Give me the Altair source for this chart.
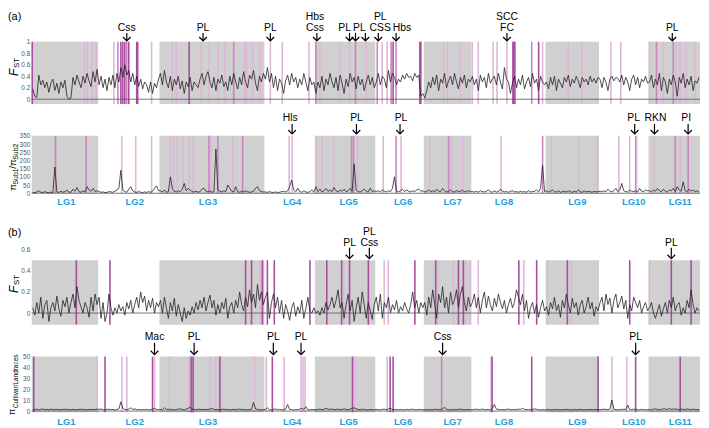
import altair as alt
import pandas as pd

# ---------------- data ----------------
LG_NAMES = ["LG1", "LG2", "LG3", "LG4", "LG5", "LG6", "LG7", "LG8", "LG9", "LG10", "LG11"]
LG_LENGTHS = [67, 62, 106, 51, 61, 49, 48, 75, 54, 50, 52]
LG_LABEL_POS = [35, 104, 178, 263, 320, 375, 425, 477, 551, 608, 655]
GREY_LGS = ["LG1", "LG3", "LG5", "LG7", "LG9", "LG11"]

# (a) FST per linkage group (sliding windows)
A_FST = [
    [0.18, 0.05, 0.03, 0.42, 0.25, 0.33, 0.20, 0.30, 0.12, 0.28, 0.35, 0.15, 0.28, 0.10, 0.30, 0.20, 0.33,
     0.05, 0.00, 0.02, 0.38, 0.25, 0.42, 0.30, 0.20, 0.40, 0.28, 0.45, 0.32, 0.22, 0.48, 0.30, 0.52],
    [0.25, 0.40, 0.20, 0.35, 0.15, 0.38, 0.25, 0.42, 0.20, 0.45, 0.30, 0.55, 0.38, 0.60, 0.42, 0.50, 0.30,
     0.45, 0.25, 0.40, 0.22, 0.35, 0.18, 0.30, 0.25, 0.12, 0.30, 0.10, 0.28, 0.20, 0.35],
    [0.45, 0.25, 0.50, 0.30, 0.20, 0.40, 0.15, 0.35, 0.25, 0.40, 0.18, 0.32, 0.10, 0.30, 0.22, 0.38, 0.15,
     0.30, 0.25, 0.20, 0.35, 0.45, 0.25, 0.40, 0.48, 0.30, 0.20, 0.38, 0.15, 0.35, 0.28, 0.42, 0.22, 0.30,
     0.15, 0.40, 0.25, 0.45, 0.30, 0.18, 0.38, 0.25, 0.48, 0.30, 0.20, 0.42, 0.35, 0.50, 0.28, 0.15, 0.40,
     0.30, 0.45],
    [0.35, 0.55, 0.30, 0.45, 0.20, 0.40, 0.15, 0.35, 0.28, 0.10, 0.32, 0.42, 0.25, 0.45, 0.30, 0.38, 0.20,
     0.35, 0.25, 0.45, 0.30, 0.15, 0.38, 0.25, 0.30],
    [0.10, 0.30, 0.20, 0.40, 0.15, 0.35, 0.25, 0.45, 0.30, 0.20, 0.38, 0.15, 0.42, 0.28, 0.10, 0.35, 0.22,
     0.45, 0.30, 0.38, 0.18, 0.40, 0.25, 0.35, 0.15, 0.30, 0.42, 0.25, 0.38, 0.20],
    [0.30, 0.45, 0.25, 0.40, 0.35, 0.20, 0.50, 0.30, 0.45, 0.38, 0.25, 0.35, 0.30, 0.42, 0.35, 0.45, 0.38,
     0.40, 0.32, 0.45, 0.38, 0.42, 0.05, 0.10],
    [0.02, 0.15, 0.30, 0.20, 0.38, 0.25, 0.42, 0.15, 0.35, 0.28, 0.45, 0.20, 0.32, 0.40, 0.25, 0.45, 0.30,
     0.18, 0.38, 0.28, 0.42, 0.20, 0.35, 0.30],
    [0.40, 0.25, 0.35, 0.15, 0.42, 0.30, 0.38, 0.20, 0.45, 0.28, 0.35, 0.40, 0.25, 0.45, 0.30, 0.18, 0.55,
     0.35, 0.30, 0.10, 0.28, 0.40, 0.20, 0.35, 0.25, 0.42, 0.18, 0.30, 0.38, 0.22, 0.45, 0.28, 0.35, 0.15,
     0.40, 0.30, 0.25],
    [0.30, 0.18, 0.38, 0.25, 0.40, 0.15, 0.35, 0.28, 0.20, 0.38, 0.30, 0.42, 0.22, 0.35, 0.28, 0.40, 0.32,
     0.20, 0.38, 0.30, 0.35, 0.25, 0.40, 0.30, 0.36, 0.28, 0.38],
    [0.35, 0.20, 0.38, 0.30, 0.15, 0.35, 0.40, 0.32, 0.38, 0.36, 0.30, 0.42, 0.25, 0.38, 0.30, 0.15, 0.35,
     0.42, 0.25, 0.38, 0.20, 0.35, 0.30, 0.40, 0.28],
    [0.30, 0.42, 0.20, 0.35, 0.25, 0.45, 0.15, 0.38, 0.30, 0.10, 0.35, 0.25, 0.42, 0.30, 0.05, 0.38, 0.28,
     0.45, 0.20, 0.35, 0.25, 0.40, 0.15, 0.32, 0.28, 0.38],
]

# (a) pi_Sub1 / pi_Sub2
A_PI = [
    [5, 3, 8, 15, 6, 4, 10, 5, 3, 7, 4, 160, 8, 5, 12, 6, 10, 18, 8, 5, 25, 12, 35, 10, 6, 15, 8, 40, 20, 12, 30, 10, 15],
    [10, 6, 8, 4, 5, 10, 8, 6, 12, 20, 30, 140, 20, 10, 6, 25, 40, 15, 8, 5, 10, 6, 4, 8, 5, 10, 6, 12, 30, 45, 15],
    [15, 8, 20, 6, 10, 100, 30, 12, 8, 15, 10, 25, 60, 15, 30, 20, 10, 8, 12, 6, 10, 25, 30, 12, 8, 15, 6, 10,
     270, 20, 12, 8, 15, 10, 50, 30, 12, 8, 40, 10, 6, 12, 8, 15, 10, 6, 8, 12, 30, 40, 15, 10, 8],
    [8, 5, 10, 6, 4, 8, 5, 6, 10, 12, 8, 15, 40, 80, 20, 8, 30, 10, 6, 15, 8, 5, 10, 20, 6],
    [40, 10, 25, 8, 15, 30, 12, 20, 10, 35, 15, 8, 20, 12, 25, 10, 15, 30, 12, 180, 20, 10, 8, 15, 25, 12, 8, 30, 10, 15],
    [10, 15, 8, 20, 12, 8, 15, 10, 30, 100, 12, 8, 15, 25, 10, 20, 12, 8, 15, 10, 20, 25, 12, 15],
    [8, 12, 20, 10, 15, 8, 25, 12, 10, 30, 15, 8, 12, 20, 10, 8, 15, 12, 10, 20, 8, 12, 15, 10],
    [10, 8, 12, 6, 15, 10, 8, 12, 20, 10, 6, 15, 8, 10, 25, 12, 8, 10, 6, 12, 15, 8, 10, 6, 12, 8, 10, 6,
     15, 8, 10, 12, 20, 8, 30, 170, 10],
    [15, 8, 12, 20, 10, 8, 15, 6, 10, 12, 8, 15, 10, 6, 12, 8, 20, 10, 6, 15, 8, 12, 10, 6, 12, 8, 10],
    [12, 8, 15, 10, 25, 12, 8, 15, 30, 10, 20, 60, 15, 10, 8, 20, 12, 10, 15, 8, 30, 12, 10, 20, 15],
    [15, 10, 20, 12, 30, 15, 10, 25, 12, 8, 20, 15, 30, 10, 40, 20, 12, 70, 15, 10, 25, 12, 20, 10, 15, 8],
]

# (b) FST
B_FST = [
    [0.05, -0.02, 0.10, 0.00, 0.15, -0.05, 0.08, 0.12, -0.08, 0.05, 0.10, 0.02, 0.16, 0.04, -0.03, 0.12, 0.06,
     0.15, 0.00, 0.10, 0.18, 0.05, 0.25, 0.12, 0.06, 0.00, 0.10, 0.05, -0.04, 0.15, 0.02, 0.18, 0.08],
    [0.15, -0.05, 0.10, -0.08, 0.00, 0.18, 0.05, -0.02, 0.05, 0.00, 0.08, 0.02, 0.06, -0.02, 0.10, 0.04, 0.12,
     0.00, 0.08, 0.15, 0.05, 0.20, 0.10, 0.16, 0.02, 0.12, 0.05, 0.14, 0.00, 0.10, 0.06],
    [0.12, 0.00, 0.15, 0.05, -0.05, 0.10, 0.02, 0.14, -0.03, 0.08, 0.00, -0.08, 0.05, -0.05, 0.02, -0.02, 0.06,
     0.00, 0.10, 0.03, 0.12, 0.05, 0.15, 0.02, 0.10, 0.17, 0.05, 0.12, -0.02, 0.08, 0.00, 0.10, 0.04, 0.14,
     -0.05, 0.06, 0.10, 0.00, 0.12, 0.05, 0.20, 0.08, 0.02, 0.15, 0.06, 0.22, 0.10, 0.18, 0.05, 0.27, 0.12,
     0.20, 0.08],
    [0.15, 0.20, -0.05, 0.10, 0.18, 0.05, 0.15, 0.00, 0.12, -0.05, 0.08, 0.02, -0.07, 0.05, 0.10, -0.03, 0.06,
     0.00, 0.12, -0.05, 0.04, 0.15, 0.02, 0.00, 0.05],
    [0.00, 0.02, -0.02, 0.05, 0.00, 0.10, 0.03, 0.08, 0.15, 0.05, 0.12, 0.22, 0.05, 0.10, -0.05, 0.08, 0.18,
     0.02, 0.12, -0.08, 0.05, 0.15, 0.00, 0.20, 0.08, -0.05, 0.10, 0.02, -0.06, 0.08],
    [0.15, 0.02, 0.18, -0.05, 0.10, 0.05, 0.15, 0.00, 0.08, 0.03, 0.12, 0.00, 0.06, 0.02, 0.10, 0.04, 0.00,
     0.08, 0.20, 0.05, 0.12, 0.00, 0.10, 0.05],
    [0.10, -0.02, 0.15, 0.05, 0.22, 0.08, -0.05, 0.18, 0.10, 0.25, 0.05, 0.15, 0.00, 0.20, 0.08, 0.12, 0.22,
     0.05, 0.18, 0.25, 0.10, 0.02, 0.15, 0.06],
    [0.10, 0.18, 0.05, 0.15, 0.00, 0.12, 0.20, 0.05, 0.16, 0.08, 0.02, 0.14, 0.06, 0.18, 0.10, 0.04, 0.12,
     0.00, 0.08, 0.14, 0.05, 0.10, 0.22, 0.15, 0.08, 0.18, 0.02, 0.12, -0.05, 0.05, 0.10, 0.00, 0.08, -0.04,
     0.05, 0.12, 0.02],
    [0.06, -0.02, 0.10, 0.04, 0.15, 0.02, 0.08, -0.04, 0.12, 0.05, 0.18, 0.08, 0.00, 0.14, 0.05, 0.10, -0.02,
     0.08, 0.12, 0.00, 0.06, 0.15, 0.04, 0.10, -0.03, 0.06, 0.02],
    [0.10, 0.15, 0.02, 0.18, 0.08, 0.14, 0.00, 0.12, 0.18, 0.05, 0.10, 0.16, 0.04, 0.12, -0.05, 0.08, 0.02,
     0.15, 0.10, 0.05, 0.12, 0.00, 0.06, 0.10, 0.02],
    [0.05, 0.10, 0.00, -0.05, 0.02, 0.08, -0.03, 0.04, 0.10, 0.00, 0.12, 0.05, 0.15, 0.02, 0.08, 0.10, -0.02,
     0.05, 0.00, 0.12, 0.05, 0.22, 0.08, 0.00, 0.05, 0.02],
]

# (b) pi_Cultivar / pi_Landraces
B_PI = [
    [1.5, 1.2, 1.8, 1.0, 1.5, 2.0, 1.3, 1.6, 1.1, 1.8, 1.4, 1.2, 1.7, 1.0, 1.5, 1.3, 1.8, 1.2, 1.5, 1.0, 1.6,
     1.3, 1.1, 1.5, 1.8, 1.2, 1.4, 1.0, 1.6, 1.3, 1.5, 1.2, 1.8],
    [1.5, 2.0, 1.2, 1.0, 1.5, 1.8, 1.2, 1.5, 1.0, 1.3, 2.0, 8.5, 2.5, 1.5, 1.2, 1.8, 3.0, 1.5, 2.0, 1.2, 1.5,
     1.0, 1.4, 1.2, 1.6, 1.0, 1.3, 1.8, 2.5, 1.5, 1.2],
    [1.5, 1.2, 3.0, 1.5, 1.8, 1.2, 1.5, 1.0, 1.4, 1.8, 2.0, 1.5, 1.2, 1.8, 2.5, 3.5, 2.0, 1.5, 1.2, 1.8, 1.5,
     1.3, 1.6, 1.2, 1.5, 1.8, 2.5, 1.5, 1.2, 1.6, 1.0, 1.4, 1.8, 1.2, 1.5, 1.0, 1.3, 1.6, 1.2, 1.5, 1.8, 1.3,
     1.5, 1.2, 1.0, 1.4, 1.6, 8.0, 2.0, 1.5, 1.2, 1.0, 1.3],
    [1.5, 3.0, 1.2, 1.0, 1.5, 2.0, 1.2, 1.5, 1.0, 1.3, 1.8, 6.0, 1.5, 1.2, 1.0, 1.4, 1.2, 1.8, 2.5, 1.5, 4.0,
     1.2, 1.0, 1.5, 1.2],
    [1.2, 1.5, 1.8, 1.2, 1.5, 2.5, 1.8, 1.5, 2.0, 1.2, 1.5, 1.8, 1.3, 1.5, 2.0, 1.5, 1.2, 1.8, 2.5, 3.0, 2.0,
     1.5, 1.2, 1.8, 1.5, 1.2, 1.0, 1.5, 1.3, 1.2],
    [1.5, 1.2, 1.0, 1.5, 1.8, 1.2, 2.0, 2.5, 1.5, 1.2, 1.5, 1.0, 1.3, 1.2, 1.0, 1.5, 1.2, 1.4, 1.8, 1.2, 1.0,
     1.5, 1.3, 1.2],
    [1.2, 1.5, 1.0, 1.3, 1.2, 1.8, 1.5, 1.2, 1.5, 2.0, 3.5, 1.5, 1.2, 1.0, 1.5, 1.3, 1.2, 1.6, 1.8, 1.5, 1.2,
     1.3, 1.5, 1.2],
    [1.2, 1.5, 1.8, 1.2, 1.5, 1.8, 1.2, 1.3, 1.5, 1.2, 2.5, 6.0, 1.8, 1.5, 1.2, 1.4, 1.2, 1.5, 1.8, 1.3, 1.2,
     1.5, 1.2, 1.8, 1.5, 2.5, 1.5, 1.2, 1.4, 1.2, 1.5, 2.0, 1.5, 1.2, 1.0, 1.3, 1.2],
    [1.2, 1.5, 1.0, 1.3, 1.2, 1.5, 1.2, 1.0, 1.4, 1.2, 1.5, 1.3, 1.2, 1.0, 1.5, 1.2, 1.3, 1.5, 1.2, 1.0, 1.4,
     1.2, 1.5, 1.3, 1.2, 1.5, 1.2],
    [1.2, 1.5, 1.8, 1.5, 1.2, 2.0, 10.0, 1.5, 1.2, 1.0, 1.5, 1.2, 1.8, 1.3, 5.5, 1.5, 1.2, 1.8, 1.5, 1.2, 1.0,
     1.5, 1.2, 1.3, 1.0],
    [1.5, 1.2, 1.8, 2.0, 1.5, 1.2, 1.5, 2.0, 1.8, 1.5, 2.5, 1.5, 1.8, 2.0, 1.5, 1.2, 1.8, 1.5, 1.2, 2.0, 1.5,
     1.2, 1.8, 1.5, 1.2, 1.5],
]

# outlier (candidate region) positions and strength
A_FST_OUT = [0.5, 53, 56, 61, 65, 83, 87, 90, 92, 94, 96, 98, 106, 107, 121, 142, 146, 159, 171, 179, 188,
             195, 204, 215, 217, 223, 231, 241, 253, 280, 287, 291, 311, 321, 327, 338, 349, 354, 359, 363,
             365, 368, 392, 393, 416, 420, 433, 445, 451, 466, 470, 480, 486, 487, 488, 505, 512, 516, 542,
             556, 585, 595, 624, 631, 638, 648, 651, 655, 661, 670]
A_FST_LVL = ["s", "l", "l", "l", "l", "l", "m", "s", "s", "s", "m", "s", "s", "s", "l", "l", "l", "s", "l",
             "l", "l", "l", "m", "l", "l", "l", "l", "l", "l", "l", "m", "l", "l", "l", "m", "l", "m", "l",
             "l", "m", "s", "m", "s", "s", "l", "l", "l", "l", "l", "l", "l", "l", "s", "s", "s", "m", "s",
             "l", "l", "l", "l", "l", "l", "m", "l", "m", "l", "l", "l", "l"]

A_PI_OUT = [24, 55, 91, 105, 121, 140, 143, 147, 153, 159, 163, 179, 181, 188, 203, 213, 260, 263, 287, 293,
            305, 323, 325, 329, 355, 368, 373, 402, 421, 424, 435, 474, 516, 525, 553, 571, 593, 604, 610,
            611, 628, 650, 655, 663]
A_PI_LVL = ["m", "m", "l", "l", "l", "l", "l", "l", "l", "l", "l", "m", "l", "m", "l", "m", "l", "l", "l",
            "l", "l", "m", "m", "l", "l", "m", "l", "l", "m", "l", "l", "l", "m", "l", "l", "l", "l", "l",
            "m", "l", "l", "m", "l", "m"]

B_FST_OUT = [45, 79, 216, 222, 231, 233, 238, 245, 281, 298, 313, 315, 321, 340, 356, 360, 387, 408, 410,
             426, 431, 436, 438, 443, 451, 492, 497, 510, 521, 541, 545, 604, 624, 646, 666]
B_FST_LVL = ["s", "s", "s", "s", "l", "s", "s", "s", "s", "s", "s", "l", "s", "s", "l", "l", "s", "s", "l",
             "l", "s", "s", "l", "l", "l", "s", "l", "s", "l", "s", "l", "s", "l", "s", "s"]

B_PI_OUT = [2, 66, 74, 91, 96, 122, 124, 139, 159, 161, 163, 180, 186, 190, 225, 237, 243, 255, 272, 274,
            276, 324, 326, 359, 362, 365, 414, 464, 465, 505, 572, 586, 601, 610, 655]
B_PI_LVL = ["s", "l", "s", "l", "l", "s", "l", "l", "l", "s", "s", "l", "l", "s", "l", "l", "s", "l", "l",
            "l", "l", "s", "l", "l", "s", "s", "m", "l", "s", "s", "s", "l", "l", "s", "s"]

# gene annotations: (position, text, row)  row 1 = upper line
A_FST_LABELS = [(96, "Css", 0), (173, "PL", 0), (241, "PL", 0), (286, "Css", 0), (286, "Hbs", 1),
                (316, "PL", 0), (331, "PL", 0), (352, "CSS", 0), (352, "PL", 1), (374, "Hbs", 0),
                (480, "FC", 0), (480, "SCC", 1), (647, "PL", 0)]
A_FST_ARROWS = [96, 173, 241, 288, 321, 327, 337, 350, 368, 480, 647]
A_PI_LABELS = [(261, "Hls", 0), (328, "PL", 0), (373, "PL", 0), (608, "PL", 0), (630, "RKN", 0), (661, "PI", 0)]
A_PI_ARROWS = [263, 328, 372, 609, 629, 663]
B_FST_LABELS = [(321, "PL", 0), (341, "Css", 0), (341, "PL", 1), (646, "PL", 0)]
B_FST_ARROWS = [321, 341, 646]
B_PI_LABELS = [(124, "Mac", 0), (164, "PL", 0), (244, "PL", 0), (272, "PL", 0), (415, "Css", 0), (610, "PL", 0)]
B_PI_ARROWS = [124, 164, 244, 272, 415, 610]

# ---------------- helpers ----------------
FONT = "Liberation Sans"
starts = []
acc = 0
for L in LG_LENGTHS:
    starts.append(acc)
    acc += L
TOTAL = acc
XSC = alt.Scale(domain=[0, TOTAL], nice=False, zero=False)


def series_df(lists):
    rows = []
    for s, L, vals in zip(starts, LG_LENGTHS, lists):
        n = len(vals)
        for k, v in enumerate(vals):
            rows.append({"pos": s + (k + 0.5) * L / n, "v": v})
    return pd.DataFrame(rows)


def text_piece(t, x, y, size, style="normal"):
    return alt.Chart(pd.DataFrame({"t": [t]})).mark_text(
        angle=270, fontSize=size, fontStyle=style, font=FONT, align="center",
        baseline="middle", color="black").encode(text="t:N", x=alt.value(x), y=alt.value(y))


def panel(height, dom, ticks, fmt, band, lists, out_pos, out_lvl, palette, labels, arrows,
          label_base, arrow_top, arrow_bot, extras):
    ysc = alt.Scale(domain=dom, nice=False, zero=False)
    yax = alt.Axis(values=ticks, format=fmt, labelFontSize=6.5, labelColor="#555555", labelFont=FONT,
                   ticks=False, domain=False, grid=False, labelPadding=2, title=None)
    grey = [(s, s + L) for n, s, L in zip(LG_NAMES, starts, LG_LENGTHS) if n in GREY_LGS]
    bands = pd.DataFrame({"s": [g[0] for g in grey], "e": [g[1] for g in grey],
                          "y0": band[0], "y1": band[1]})
    layers = []
    layers.append(alt.Chart(bands).mark_rect(color="#d0d0d0").encode(
        x=alt.X("s:Q", scale=XSC, axis=None), x2="e:Q",
        y=alt.Y("y0:Q", scale=ysc, axis=yax), y2="y1:Q"))
    out = pd.DataFrame({"pos": out_pos, "lvl": out_lvl, "y0": band[0], "y1": band[1]})
    layers.append(alt.Chart(out).mark_rule(strokeWidth=1.6).encode(
        x=alt.X("pos:Q", scale=XSC, axis=None),
        y=alt.Y("y0:Q", scale=ysc, axis=yax), y2="y1:Q",
        color=alt.Color("lvl:N", scale=alt.Scale(domain=list(palette.keys()),
                                                 range=list(palette.values())), legend=None)))
    layers.append(alt.Chart(pd.DataFrame({"z": [0]})).mark_rule(color="#555555", strokeWidth=0.8).encode(
        y=alt.Y("z:Q", scale=ysc, axis=yax)))
    layers.append(alt.Chart(series_df(lists)).mark_line(color="#222222", strokeWidth=0.8).encode(
        x=alt.X("pos:Q", scale=XSC, axis=None), y=alt.Y("v:Q", scale=ysc, axis=yax)))
    lab = pd.DataFrame(labels, columns=["pos", "t", "row"])
    for r in (0, 1):
        sub = lab[lab["row"] == r]
        if len(sub):
            layers.append(alt.Chart(sub).mark_text(fontSize=10.5, font=FONT, align="center",
                                                   baseline="alphabetic", color="black").encode(
                x=alt.X("pos:Q", scale=XSC, axis=None), y=alt.value(label_base - 11 * r), text="t:N"))
    arr = pd.DataFrame({"pos": arrows})
    layers.append(alt.Chart(arr).mark_rule(color="black", strokeWidth=1.2).encode(
        x=alt.X("pos:Q", scale=XSC, axis=None), y=alt.value(arrow_top), y2=alt.value(arrow_bot - 0.6)))
    layers.append(alt.Chart(arr).mark_point(shape="M-1,-1L0,0L1,-1", size=60, filled=False,
                                            strokeWidth=1.2, color="black", opacity=1).encode(
        x=alt.X("pos:Q", scale=XSC, axis=None), y=alt.value(arrow_bot)))
    layers.extend(extras)
    return alt.layer(*layers).properties(width=TOTAL, height=height)


def lg_labels(y):
    return alt.Chart(pd.DataFrame({"pos": LG_LABEL_POS, "t": LG_NAMES})).mark_text(
        font=FONT, fontWeight="bold", fontSize=9.5, color="#1ea0dc", baseline="middle").encode(
        x=alt.X("pos:Q", scale=XSC, axis=None), y=alt.value(y), text="t:N")


def tag(t, y):
    return alt.Chart(pd.DataFrame({"t": [t]})).mark_text(
        font=FONT, fontSize=11, align="left", baseline="middle", color="black").encode(
        text="t:N", x=alt.value(-24), y=alt.value(y))


PAL_A = {"s": "#a84ea1", "m": "#c784c1", "l": "#ddb6da"}
PAL_B = {"s": "#d431d4", "m": "#e274e2", "l": "#f3a8f3"}

p1 = panel(96, [-6 / 58, 1 + 32 / 58], [0, 0.2, 0.4, 0.6, 0.8, 1], ".1~f", (-0.085, 1.0), A_FST,
           A_FST_OUT, A_FST_LVL, PAL_A, A_FST_LABELS, A_FST_ARROWS, 21, 23, 31,
           [tag("(a)", 7), text_piece("F", -18, 63, 12, "italic"), text_piece("ST", -14.5, 53.5, 8)])

k2 = 58 / 350
p2 = panel(104, [-(104 - 89) / k2, 350 + 31 / k2], [0, 50, 100, 150, 200, 250, 300, 350], "d", (0, 350), A_PI,
           A_PI_OUT, A_PI_LVL, PAL_A, A_PI_LABELS, A_PI_ARROWS, 16, 19, 29,
           [lg_labels(98), text_piece("π", -19, 83, 10), text_piece("Sub1", -15.5, 72, 7),
            text_piece("/π", -19, 59.5, 10), text_piece("Sub2", -15.5, 47, 7)])

k3 = 64 / 0.6
p3 = panel(122, [-(122 - 106) / k3, 0.6 + 42 / k3], [0, 0.2, 0.4, 0.6], ".1~f", (-0.11, 0.5), B_FST,
           B_FST_OUT, B_FST_LVL, PAL_B, B_FST_LABELS, B_FST_ARROWS, 38, 40, 51,
           [tag("(b)", 25), text_piece("F", -18, 82, 12, "italic"), text_piece("ST", -14.5, 72.5, 8)])

k4 = 55 / 50
p4 = panel(98, [-(98 - 83) / k4, 50 + 28 / k4], [0, 10, 20, 30, 40, 50], "d", (-1, 50), B_PI,
           B_PI_OUT, B_PI_LVL, PAL_B, B_PI_LABELS, B_PI_ARROWS, 11, 14, 26,
           [lg_labels(94), text_piece("π", -19.5, 84, 9), text_piece("Cultivar/Landraces", -16, 53, 6.5)])

chart = alt.vconcat(p1, p2, p3, p4, spacing=0, bounds="flush").properties(padding=0).configure_view(stroke=None)

chart.save("out.html", embed_options={"renderer": "svg", "actions": False})
